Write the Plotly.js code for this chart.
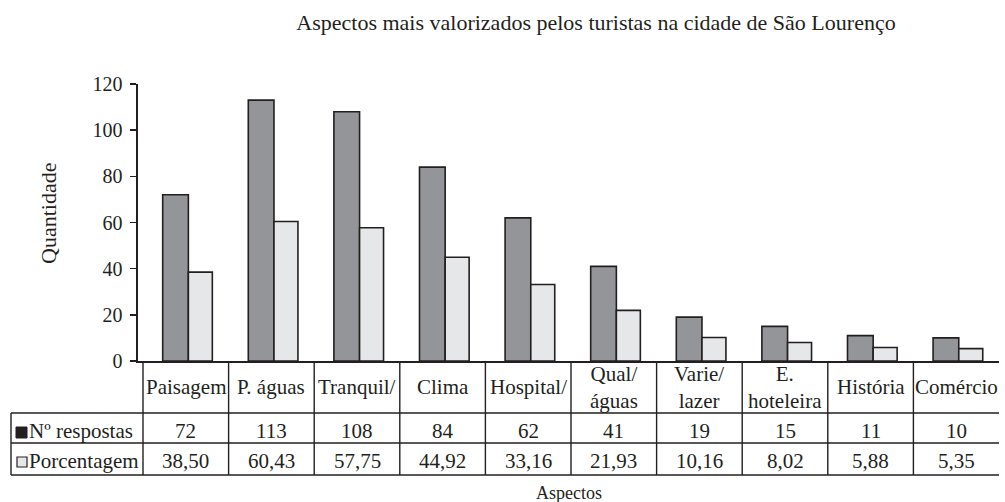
<!DOCTYPE html>
<html>
<head>
<meta charset="utf-8">
<script src="https://cdn.plot.ly/plotly-3.0.1.min.js"></script>
<style>html,body{margin:0;padding:0;background:#fff;}#chart{width:1005px;height:502px;}</style>
</head>
<body>
<div id="chart"></div>
<script>
// ---- data ----
const categories = ["Paisagem", "P. águas", "Tranquil/", "Clima", "Hospital/", "Qual/<br>águas", "Varie/<br>lazer", "E.<br>hoteleira", "História", "Comércio"];
const respostas = [72, 113, 108, 84, 62, 41, 19, 15, 11, 10];
const porcentagem = [38.50, 60.43, 57.75, 44.92, 33.16, 21.93, 10.16, 8.02, 5.88, 5.35];
const seriesNames = ["Nº respostas", "Porcentagem"];
const yTicks = [0, 20, 40, 60, 80, 100, 120];
const chartTitle = "Aspectos mais valorizados pelos turistas na cidade de São Lourenço";
const xTitle = "Aspectos";
const yTitle = "Quantidade";

// ---- style ----
const FONT = "'Liberation Serif', 'DejaVu Serif', serif";
const INK = "#231f20";
const DARK = "#939598";
const LIGHT = "#e6e7e8";
const W = 1005, H = 502;
const mL = 138, mR = 6, mT = 84, mB = 141;
const plotW = W - mL - mR, plotH = H - mT - mB;
const px2paperX = p => (p - mL) / plotW;
const px2paperY = p => (H - mB - p) / plotH;

const idx = categories.map((_, i) => i);
const fmt = v => v.toFixed(2).replace('.', ',');

const traces = [
  {type: 'bar', x: idx, y: respostas, name: seriesNames[0], offset: -0.27, width: 0.3,
   marker: {color: DARK, line: {color: INK, width: 1.6}}, hoverinfo: 'x+y'},
  {type: 'bar', x: idx, y: porcentagem, name: seriesNames[1], offset: 0.03, width: 0.28,
   marker: {color: LIGHT, line: {color: INK, width: 1.6}}, hoverinfo: 'x+y'}
];

// table geometry (pixels -> paper)
const tblLeft = px2paperX(11);
const rowTop = px2paperY(361), rowHead = px2paperY(413), rowResp = px2paperY(443), rowPct = px2paperY(475);
const shapes = [];
const line = {color: INK, width: 1.4};
for (let i = 0; i < categories.length; i++) {
  shapes.push({type: 'line', xref: 'x', yref: 'paper', x0: i - 0.5, x1: i - 0.5, y0: rowTop, y1: rowPct, line});
}
[rowHead, rowResp, rowPct].forEach(y => {
  shapes.push({type: 'line', xref: 'paper', yref: 'paper', x0: tblLeft, x1: 1, y0: y, y1: y, line});
});
shapes.push({type: 'line', xref: 'paper', yref: 'paper', x0: tblLeft, x1: tblLeft, y0: rowHead, y1: rowPct, line});
shapes.push({type: 'rect', xref: 'paper', yref: 'paper', x0: px2paperX(16), x1: px2paperX(27), y0: px2paperY(427), y1: px2paperY(438),
  fillcolor: INK, line: {color: INK, width: 1}});
shapes.push({type: 'rect', xref: 'paper', yref: 'paper', x0: px2paperX(17), x1: px2paperX(27), y0: px2paperY(457), y1: px2paperY(467),
  fillcolor: LIGHT, line: {color: INK, width: 1.2}});

const annotations = [];
const tfont = {family: FONT, size: 21, color: INK};
const yHead = px2paperY(387), yResp = px2paperY(431), yPct = px2paperY(461);
categories.forEach((c, i) => {
  annotations.push({xref: 'x', yref: 'paper', x: i, y: yHead, text: c, showarrow: false, font: tfont, xanchor: 'center', yanchor: 'middle'});
  annotations.push({xref: 'x', yref: 'paper', x: i, y: yResp, text: String(respostas[i]), showarrow: false, font: tfont, xanchor: 'center', yanchor: 'middle'});
  annotations.push({xref: 'x', yref: 'paper', x: i, y: yPct, text: fmt(porcentagem[i]), showarrow: false, font: tfont, xanchor: 'center', yanchor: 'middle'});
});
annotations.push({xref: 'paper', yref: 'paper', x: px2paperX(27), y: yResp, text: seriesNames[0], showarrow: false, font: tfont, xanchor: 'left', yanchor: 'middle'});
annotations.push({xref: 'paper', yref: 'paper', x: px2paperX(27), y: yPct, text: seriesNames[1], showarrow: false, font: tfont, xanchor: 'left', yanchor: 'middle'});
annotations.push({xref: 'paper', yref: 'paper', x: 0.5, y: px2paperY(493), text: xTitle, showarrow: false, font: {family: FONT, size: 18, color: INK}, xanchor: 'center', yanchor: 'middle'});
annotations.push({xref: 'paper', yref: 'paper', x: px2paperX(48), y: px2paperY(214), text: yTitle, textangle: -90, showarrow: false, font: {family: FONT, size: 22, color: INK}, xanchor: 'center', yanchor: 'middle'});

const layout = {
  width: W, height: H,
  margin: {l: mL, r: mR, t: mT, b: mB, pad: 0},
  paper_bgcolor: '#fff', plot_bgcolor: '#fff',
  showlegend: false,
  barmode: 'group', bargap: 0.4, bargroupgap: 0,
  title: {text: chartTitle, x: 596 / W, xanchor: 'center', y: 1 - 22 / H, yanchor: 'middle', font: {family: FONT, size: 22, color: INK}},
  xaxis: {range: [-0.5 - 5 / (plotW / 10.06), 9.5], showticklabels: false, ticks: '', showgrid: false, zeroline: false,
          showline: true, linecolor: INK, linewidth: 1.6, fixedrange: true},
  yaxis: {range: [0, 120], tickvals: yTicks, ticktext: yTicks.map(String), ticks: 'outside', ticklen: 6, tickwidth: 1.4, tickcolor: INK,
          showgrid: false, zeroline: false, showline: true, linecolor: INK, linewidth: 1.6,
          tickfont: {family: FONT, size: 20, color: INK}, ticklabelstandoff: 4, fixedrange: true},
  shapes, annotations,
  font: {family: FONT, color: INK}
};

Plotly.newPlot('chart', traces, layout, {displayModeBar: false, staticPlot: true});
</script>
</body>
</html>
